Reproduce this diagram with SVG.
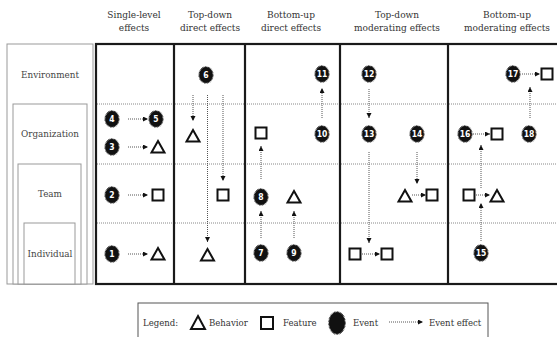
<svg xmlns="http://www.w3.org/2000/svg" width="557" height="337" viewBox="0 0 557 337">
<defs>
<style>
.hdr{font-family:"DejaVu Serif","Liberation Serif",serif;font-stretch:condensed;font-size:10px;fill:#333;text-anchor:middle}
.lbl{font-family:"DejaVu Serif","Liberation Serif",serif;font-stretch:condensed;font-size:9.8px;fill:#444;text-anchor:middle}
.leg{font-family:"DejaVu Serif","Liberation Serif",serif;font-stretch:condensed;font-size:9.5px;fill:#333}
.num{font-family:"DejaVu Sans","Liberation Sans",sans-serif;font-stretch:condensed;font-weight:bold;font-size:8.5px;fill:#fff;text-anchor:middle}
.panel{fill:#fff;stroke:#999;stroke-width:1}
.grid{fill:none;stroke:#1a1a1a;stroke-width:2.2}
.row{stroke:#888;stroke-width:1;stroke-dasharray:1 1}
.con{stroke:#555;stroke-width:1;stroke-dasharray:1 1;fill:none;marker-end:url(#ah)}
.ev{fill:#111;stroke:#111;stroke-width:1.6;stroke-dasharray:0.7 0.7}
.tri{fill:none;stroke:#111;stroke-width:2;stroke-linejoin:miter}
.sq{fill:#fff;stroke:#111;stroke-width:2}
</style>
<marker id="ah" markerUnits="userSpaceOnUse" markerWidth="6" markerHeight="6" refX="5" refY="2.5" orient="auto">
<path d="M0,0 L5,2.5 L0,5 z" fill="#111"/>
</marker>
<ellipse id="evs" cx="0" cy="0" rx="6.8" ry="7.9" class="ev"/>
<path id="trs" d="M0,-6 L6.5,5.5 L-6.5,5.5 z" class="tri"/>
<rect id="sqs" x="-5.5" y="-5.5" width="11" height="11" class="sq"/>
</defs>
<rect width="557" height="337" fill="#fff"/>

<g id="headers">
<text class="hdr" x="134" y="18">Single-level</text>
<text class="hdr" x="134" y="31">effects</text>
<text class="hdr" x="210" y="18">Top-down</text>
<text class="hdr" x="210" y="31">direct effects</text>
<text class="hdr" x="291" y="18">Bottom-up</text>
<text class="hdr" x="291" y="31">direct effects</text>
<text class="hdr" x="397" y="18">Top-down</text>
<text class="hdr" x="397" y="31">moderating effects</text>
<text class="hdr" x="507" y="18">Bottom-up</text>
<text class="hdr" x="507" y="31">moderating effects</text>
</g>

<g id="levels">
<rect class="panel" x="7" y="44" width="86" height="240"/>
<rect class="panel" x="13" y="104" width="74" height="180"/>
<rect class="panel" x="18" y="164" width="63" height="120"/>
<rect class="panel" x="24" y="223" width="51" height="61"/>
<text class="lbl" x="50" y="78">Environment</text>
<text class="lbl" x="50" y="137">Organization</text>
<text class="lbl" x="50" y="197">Team</text>
<text class="lbl" x="50" y="257">Individual</text>
</g>

<g id="grid">
<line class="row" x1="97" y1="104" x2="557" y2="104"/>
<line class="row" x1="97" y1="164" x2="557" y2="164"/>
<line class="row" x1="97" y1="223" x2="557" y2="223"/>
<rect class="grid" x="96" y="44" width="470" height="240"/>
<line class="grid" x1="174" y1="44" x2="174" y2="284"/>
<line class="grid" x1="245" y1="44" x2="245" y2="284"/>
<line class="grid" x1="340" y1="44" x2="340" y2="284"/>
<line class="grid" x1="448" y1="44" x2="448" y2="284"/>
</g>

<g id="connectors">
<line class="con" x1="128" y1="119" x2="148" y2="119"/>
<line class="con" x1="128" y1="147" x2="148" y2="147"/>
<line class="con" x1="128" y1="195" x2="148" y2="195"/>
<line class="con" x1="128" y1="254" x2="148" y2="254"/>
<line class="con" x1="193" y1="95" x2="193" y2="121"/>
<line class="con" x1="207.5" y1="95" x2="207.5" y2="242"/>
<line class="con" x1="223" y1="95" x2="223" y2="181"/>
<line class="con" x1="261" y1="179" x2="261" y2="146"/>
<line class="con" x1="261" y1="238" x2="261" y2="211"/>
<line class="con" x1="294" y1="238" x2="294" y2="211"/>
<line class="con" x1="322" y1="118" x2="322" y2="88"/>
<line class="con" x1="369" y1="89" x2="369" y2="118"/>
<line class="con" x1="369" y1="152" x2="369" y2="243"/>
<line class="con" x1="417" y1="152" x2="417" y2="184"/>
<line class="con" x1="362" y1="254" x2="380" y2="254"/>
<line class="con" x1="412" y1="195" x2="426" y2="195"/>
<line class="con" x1="473" y1="134" x2="490" y2="134"/>
<line class="con" x1="522" y1="74" x2="540" y2="74"/>
<line class="con" x1="530" y1="118" x2="530" y2="87"/>
<line class="con" x1="476" y1="195" x2="490" y2="195"/>
<line class="con" x1="481" y1="188" x2="481" y2="145"/>
<line class="con" x1="481" y1="241" x2="481" y2="203"/>
</g>

<g id="event-1"><use href="#evs" x="112" y="254"/><text class="num" x="112" y="257">1</text></g>
<g id="event-2"><use href="#evs" x="112" y="195"/><text class="num" x="112" y="198">2</text></g>
<g id="event-3"><use href="#evs" x="112" y="147"/><text class="num" x="112" y="150">3</text></g>
<g id="event-4"><use href="#evs" x="112" y="119"/><text class="num" x="112" y="122">4</text></g>
<g id="event-5"><use href="#evs" x="156" y="119"/><text class="num" x="156" y="122">5</text></g>
<g id="event-6"><use href="#evs" x="206" y="75"/><text class="num" x="206" y="78">6</text></g>
<g id="event-7"><use href="#evs" x="261" y="253"/><text class="num" x="261" y="256">7</text></g>
<g id="event-8"><use href="#evs" x="261" y="197"/><text class="num" x="261" y="200">8</text></g>
<g id="event-9"><use href="#evs" x="294" y="253"/><text class="num" x="294" y="256">9</text></g>
<g id="event-10"><use href="#evs" x="322" y="134"/><text class="num" x="322" y="137">10</text></g>
<g id="event-11"><use href="#evs" x="322" y="74"/><text class="num" x="322" y="77">11</text></g>
<g id="event-12"><use href="#evs" x="369" y="74"/><text class="num" x="369" y="77">12</text></g>
<g id="event-13"><use href="#evs" x="369" y="134"/><text class="num" x="369" y="137">13</text></g>
<g id="event-14"><use href="#evs" x="417" y="134"/><text class="num" x="417" y="137">14</text></g>
<g id="event-15"><use href="#evs" x="481" y="253"/><text class="num" x="481" y="256">15</text></g>
<g id="event-16"><use href="#evs" x="465" y="134"/><text class="num" x="465" y="137">16</text></g>
<g id="event-17"><use href="#evs" x="513" y="74"/><text class="num" x="513" y="77">17</text></g>
<g id="event-18"><use href="#evs" x="529" y="134"/><text class="num" x="529" y="137">18</text></g>

<g id="behavior-org-single"><use href="#trs" x="158" y="147"/></g>
<g id="behavior-ind-single"><use href="#trs" x="158" y="254"/></g>
<g id="behavior-org-topdown"><use href="#trs" x="193" y="136"/></g>
<g id="behavior-ind-topdown"><use href="#trs" x="207.5" y="255"/></g>
<g id="behavior-team-bottomup"><use href="#trs" x="294" y="197"/></g>
<g id="behavior-team-tdmod"><use href="#trs" x="405" y="196"/></g>
<g id="behavior-team-bumod"><use href="#trs" x="497" y="196"/></g>

<g id="feature-team-single"><use href="#sqs" x="158" y="195"/></g>
<g id="feature-team-topdown"><use href="#sqs" x="223" y="195"/></g>
<g id="feature-org-bottomup"><use href="#sqs" x="261" y="133"/></g>
<g id="feature-team-tdmod"><use href="#sqs" x="432" y="195"/></g>
<g id="feature-ind-tdmod-a"><use href="#sqs" x="355" y="254"/></g>
<g id="feature-ind-tdmod-b"><use href="#sqs" x="387" y="254"/></g>
<g id="feature-org-bumod"><use href="#sqs" x="497" y="134"/></g>
<g id="feature-env-bumod"><use href="#sqs" x="547" y="74"/></g>
<g id="feature-team-bumod"><use href="#sqs" x="469" y="195"/></g>

<g id="legend">
<rect x="138" y="303" width="350" height="40" fill="#fff" stroke="#555" stroke-width="1"/>
<text class="leg" x="143" y="326">Legend:</text>
<path d="M198,316 L205,329 L191,329 z" class="tri"/>
<text class="leg" x="209" y="326">Behavior</text>
<rect x="261" y="317" width="12" height="12" class="sq"/>
<text class="leg" x="283" y="326">Feature</text>
<ellipse cx="337" cy="323" rx="8" ry="11" class="ev"/>
<text class="leg" x="353" y="326">Event</text>
<line class="con" x1="389" y1="322" x2="423" y2="322"/>
<text class="leg" x="429" y="326">Event effect</text>
</g>
</svg>
